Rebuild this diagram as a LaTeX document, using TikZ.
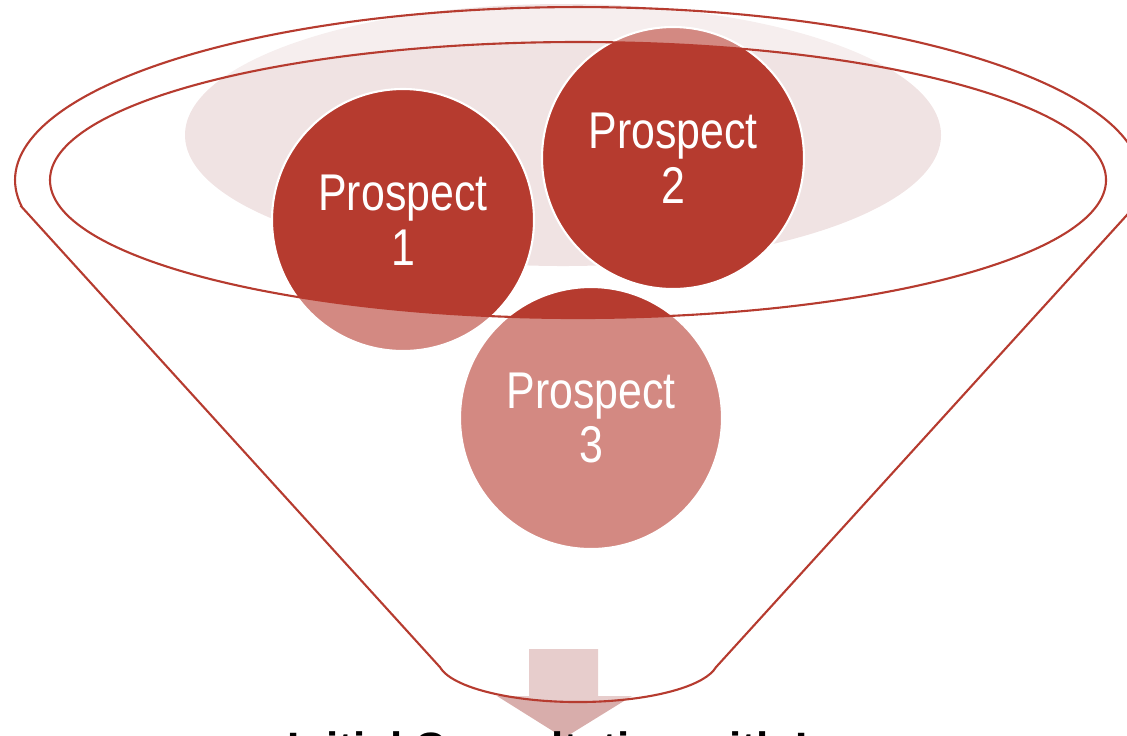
\documentclass[tikz,border=0pt]{standalone}
\usepackage{fontspec}
\usepackage{xcolor}
\usepackage{tikz}
\usetikzlibrary{positioning}

\newfontfamily\narrowsf[FakeStretch=0.83]{Liberation Sans}
\newfontfamily\labelsf{Liberation Sans}

\definecolor{funnelred}{HTML}{B63B2F}
\definecolor{mouthpink}{HTML}{F0E3E3}
\definecolor{arrowpink}{HTML}{D8ADAB}

\begin{document}
\begin{tikzpicture}[
  prospect/.style={circle, fill=funnelred, draw=white, line width=0.6pt,
    minimum size=2.62cm, inner sep=0pt, align=center, text=white,
    font=\narrowsf\fontsize{14.7}{15.6}\selectfont},
  rim/.style={draw=funnelred, line width=0.6pt}]
\useasboundingbox (0,0) rectangle (11.27,-7.35);
\clip (0,0) rectangle (11.27,-7.35);
% funnel corners
\coordinate (topL) at (0.219,-2.071);
\coordinate (topR) at (11.341,-2.071);
\coordinate (neckL) at (4.401,-6.673);
\coordinate (mouth) at (5.78,-1.80);
% pale disc behind the prospects
\fill[mouthpink] (5.63,-1.35) ellipse [x radius=3.78, y radius=1.31];
\node[prospect] (p1) at (4.03,-2.20) {Prospect\\1};
\node[prospect] (p2) at (6.73,-1.58) {Prospect\\2};
\node[prospect] (p3) at (5.91,-4.18) {Prospect\\3};
% arrow out of the neck
\fill[arrowpink] (5.29,-6.49) -- (5.98,-6.49) -- (5.98,-6.96) -- (6.32,-6.96)
  -- (5.64,-7.38) -- (4.97,-6.96) -- (5.29,-6.96) -- cycle;
% glassy funnel body
\fill[white, fill opacity=0.4, even odd rule]
  (topL) -- (neckL) arc[start angle=190, end angle=350, x radius=1.40, y radius=0.42]
  -- (topR) arc[start angle=-9, end angle=189, x radius=5.63, y radius=1.73] -- cycle
  (mouth) ellipse [x radius=5.28, y radius=1.38];
\draw[rim] (topL) -- (neckL) arc[start angle=190, end angle=350, x radius=1.40, y radius=0.42]
  -- (topR) arc[start angle=-9, end angle=189, x radius=5.63, y radius=1.73] -- cycle;
\draw[rim] (mouth) ellipse [x radius=5.28, y radius=1.38];
\node[anchor=base west, inner sep=0pt, font=\labelsf\bfseries\fontsize{12.5}{15}\selectfont]
  (intake) at (2.87,-7.63) {Initial Consultation with Lawyer};
\end{tikzpicture}
\end{document}
